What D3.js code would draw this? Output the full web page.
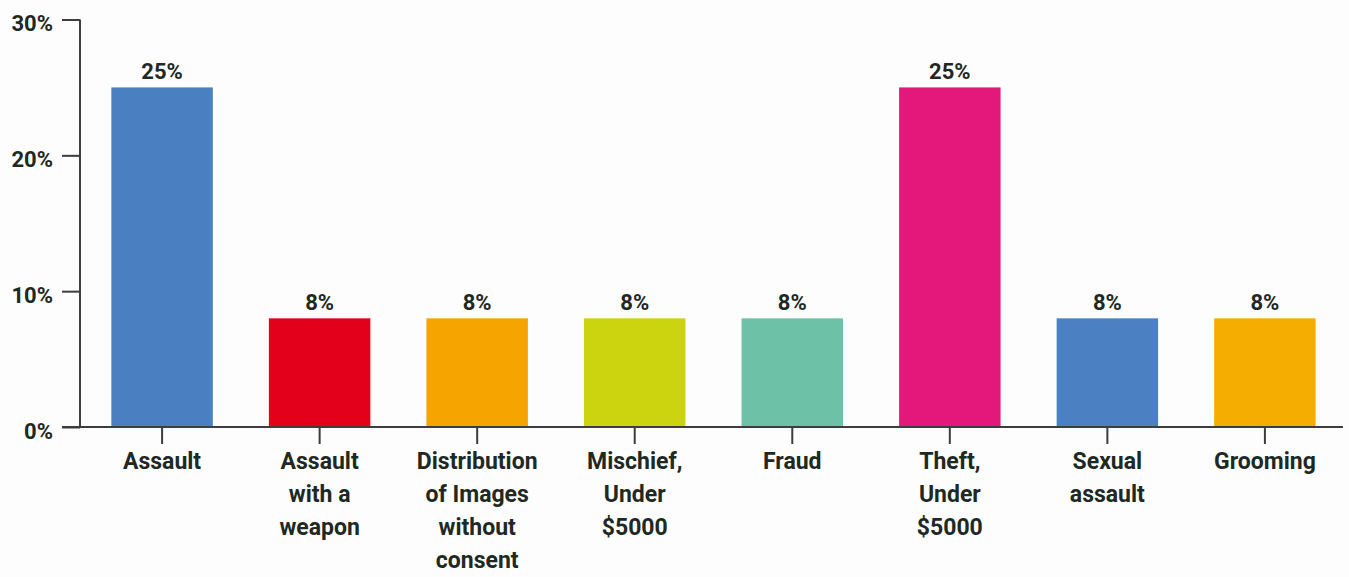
<!DOCTYPE html>
<html>
<head>
<meta charset="utf-8">
<script src="https://cdn.jsdelivr.net/npm/d3@7"></script>
<style>
  html, body { margin: 0; padding: 0; background: #fdfdfd; }
  svg { display: block; }
  text { font-family: Roboto, "Noto Sans", sans-serif; font-weight: 700; fill: #1f2923; }
</style>
</head>
<body>
<svg id="chart" width="1349" height="577"></svg>
<script>
// Offence categories (each label line separated by "|")
const categories = [
  "Assault",
  "Assault|with a|weapon",
  "Distribution|of Images|without|consent",
  "Mischief,|Under|$5000",
  "Fraud",
  "Theft,|Under|$5000",
  "Sexual|assault",
  "Grooming"
];
// Share of cases, percent
const values = [25, 8, 8, 8, 8, 25, 8, 8];
const colors = ["#4a7fc1", "#e2001b", "#f5a400", "#ccd30f", "#6dc1a6", "#e4177a", "#4b80c2", "#f4ad00"];
const yTicks = [0, 10, 20, 30];

const svg = d3.select("#chart");
const x0 = 80, x1 = 1343, yTop = 19.5, yBase = 427;

const x = d3.scaleBand()
  .domain(categories)
  .range([83, 1344])
  .paddingInner(0.356)
  .paddingOuter(0.18);

const y = d3.scaleLinear().domain([0, 30]).range([yBase, yTop]);

// bars
svg.append("g").selectAll("rect")
  .data(values)
  .join("rect")
  .attr("x", (d, i) => x(categories[i]))
  .attr("width", x.bandwidth())
  .attr("y", d => y(d))
  .attr("height", d => yBase - y(d))
  .attr("fill", (d, i) => colors[i]);

// value labels
svg.append("g").selectAll("text")
  .data(values)
  .join("text")
  .attr("x", (d, i) => x(categories[i]) + x.bandwidth() / 2)
  .attr("y", d => y(d) - 8)
  .attr("text-anchor", "middle")
  .style("font-size", "22px")
  .text(d => d + "%");

// y axis
const yAxis = d3.axisLeft(y)
  .tickValues(yTicks)
  .tickFormat(d => d + "%")
  .tickSize(18)
  .tickSizeOuter(0)
  .tickPadding(9);

const gy = svg.append("g").attr("transform", `translate(${x0},0)`).call(yAxis);
gy.select(".domain").attr("stroke", "#3d3d3d").attr("stroke-width", 2)
  .attr("d", `M0,${yTop}V${yBase}`);
gy.selectAll(".tick line").attr("stroke", "#3d3d3d").attr("stroke-width", 2);
gy.selectAll(".tick text")
  .style("font-size", "22px")
  .style("font-family", "Roboto, sans-serif")
  .attr("dy", "0.5em")
  .attr("fill", "#1f2923");

// x axis
const xAxis = d3.axisBottom(x).tickSize(17).tickSizeOuter(0).tickFormat("");
const gx = svg.append("g").attr("transform", `translate(0,${yBase})`).call(xAxis);
gx.select(".domain").attr("stroke", "#3d3d3d").attr("stroke-width", 2)
  .attr("d", `M62,0H${x1}`);
gx.selectAll(".tick line").attr("stroke", "#3d3d3d").attr("stroke-width", 2);

// multi-line category labels
gx.selectAll(".tick").each(function (d) {
  const lines = d.split("|");
  const t = d3.select(this).append("text")
    .attr("text-anchor", "middle")
    .attr("y", 42)
    .style("font-size", "23px")
    .attr("fill", "#1f2923");
  lines.forEach((ln, i) => {
    t.append("tspan").attr("x", 0).attr("dy", i === 0 ? 0 : 33).text(ln);
  });
});
</script>
</body>
</html>
